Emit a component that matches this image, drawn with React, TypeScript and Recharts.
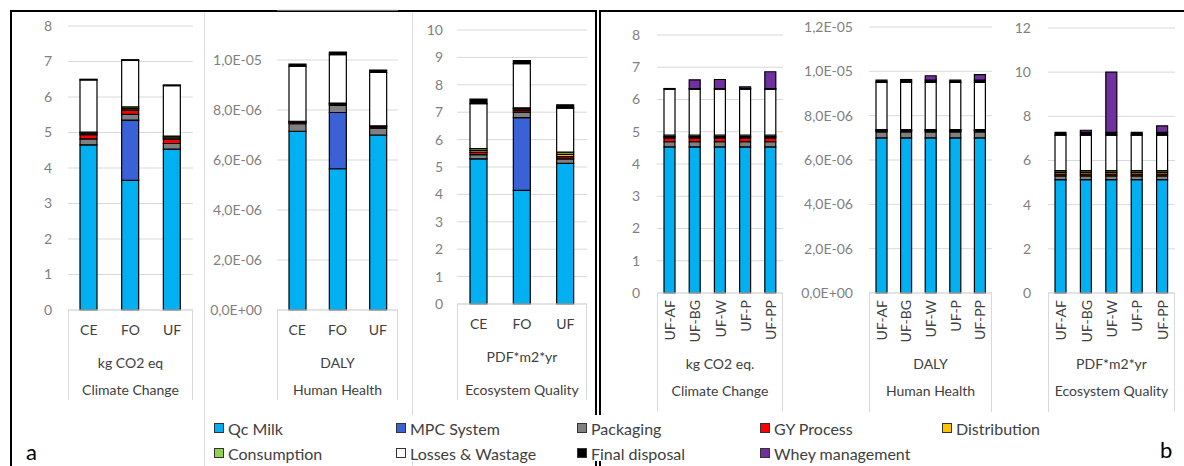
import React from 'react';
import { BarChart, Bar, XAxis, YAxis, CartesianGrid } from 'recharts';

const seriesNames = [
  'Qc Milk',
  'MPC System',
  'Packaging',
  'GY Process',
  'Distribution',
  'Consumption',
  'Losses & Wastage',
  'Final disposal',
  'Whey management',
];
const seriesColors = ['#00B0F0', '#3A62D6', '#808080', '#FF0000', '#FFC000', '#92D050', '#FFFFFF', '#000000', '#7030A0'];

const catsA = ['CE', 'FO', 'UF'];
const catsB = ['UF-AF', 'UF-BG', 'UF-W', 'UF-P', 'UF-PP'];

// one row per series (seriesNames order), one column per category
const climateA = [
  [4.65, 3.65, 4.53],
  [0, 1.7, 0],
  [0.17, 0.16, 0.16],
  [0.12, 0.12, 0.12],
  [0.04, 0.04, 0.04],
  [0.03, 0.05, 0.05],
  [1.47, 1.31, 1.42],
  [0.02, 0.02, 0.02],
  [0, 0, 0],
];
const healthA = [
  [7.15e-6, 5.65e-6, 7.0e-6],
  [0, 2.25e-6, 0],
  [0.3e-6, 0.28e-6, 0.27e-6],
  [0.05e-6, 0.05e-6, 0.05e-6],
  [0.03e-6, 0.03e-6, 0.03e-6],
  [0.02e-6, 0.02e-6, 0.02e-6],
  [2.2e-6, 1.93e-6, 2.13e-6],
  [0.09e-6, 0.11e-6, 0.1e-6],
  [0, 0, 0],
];
const ecoA = [
  [5.3, 4.15, 5.13],
  [0, 2.65, 0],
  [0.15, 0.2, 0.17],
  [0.08, 0.07, 0.08],
  [0.07, 0.05, 0.08],
  [0.07, 0.04, 0.08],
  [1.64, 1.61, 1.61],
  [0.17, 0.11, 0.12],
  [0, 0, 0],
];
const climateB = [
  [4.53, 4.53, 4.53, 4.53, 4.53],
  [0, 0, 0, 0, 0],
  [0.16, 0.16, 0.16, 0.16, 0.16],
  [0.12, 0.12, 0.12, 0.12, 0.12],
  [0.04, 0.04, 0.04, 0.04, 0.04],
  [0.05, 0.05, 0.05, 0.05, 0.05],
  [1.42, 1.42, 1.42, 1.42, 1.42],
  [0.02, 0.02, 0.02, 0.02, 0.02],
  [0, 0.27, 0.28, 0.05, 0.52],
];
const healthB = [
  [7.0e-6, 7.0e-6, 7.0e-6, 7.0e-6, 7.0e-6],
  [0, 0, 0, 0, 0],
  [0.27e-6, 0.27e-6, 0.27e-6, 0.27e-6, 0.27e-6],
  [0.05e-6, 0.05e-6, 0.05e-6, 0.05e-6, 0.05e-6],
  [0.03e-6, 0.03e-6, 0.03e-6, 0.03e-6, 0.03e-6],
  [0.02e-6, 0.02e-6, 0.02e-6, 0.02e-6, 0.02e-6],
  [2.13e-6, 2.13e-6, 2.13e-6, 2.13e-6, 2.13e-6],
  [0.1e-6, 0.1e-6, 0.1e-6, 0.1e-6, 0.1e-6],
  [0, 0.03e-6, 0.2e-6, 0, 0.25e-6],
];
const ecoB = [
  [5.13, 5.13, 5.13, 5.13, 5.13],
  [0, 0, 0, 0, 0],
  [0.17, 0.17, 0.17, 0.17, 0.17],
  [0.08, 0.08, 0.08, 0.08, 0.08],
  [0.08, 0.08, 0.08, 0.08, 0.08],
  [0.08, 0.08, 0.08, 0.08, 0.08],
  [1.61, 1.61, 1.61, 1.61, 1.61],
  [0.12, 0.12, 0.12, 0.12, 0.12],
  [0, 0.1, 2.73, 0, 0.3],
];

const ticks8 = [0, 1, 2, 3, 4, 5, 6, 7, 8];
const ticks10 = [0, 1, 2, 3, 4, 5, 6, 7, 8, 9, 10];
const ticks12 = [0, 2, 4, 6, 8, 10, 12];
const ticksDalyA = [0, 2e-6, 4e-6, 6e-6, 8e-6, 1e-5];
const ticksDalyB = [0, 2e-6, 4e-6, 6e-6, 8e-6, 1e-5, 1.2e-5];

const FONT = 'Lato, "Open Sans", sans-serif';
const LIGHT = '#d9d9d9';
const TXT = '#404040';

const sci = (v: number) => {
  if (v === 0) return '0,0E+00';
  const e = Math.floor(Math.log10(v) + 1e-9);
  const m = v / Math.pow(10, e);
  const es = (e < 0 ? '-' : '+') + String(Math.abs(e)).padStart(2, '0');
  return m.toFixed(1).replace('.', ',') + 'E' + es;
};

const toRows = (cats: string[], values: number[][]) =>
  cats.map((c, i) => {
    const row: Record<string, any> = { cat: c };
    seriesNames.forEach((s, k) => {
      row[s] = values[k][i];
    });
    return row;
  });

const RotTick = (props: any) => {
  const { x, y, payload } = props;
  return (
    <text
      x={x}
      y={y}
      transform={`rotate(-90, ${x}, ${y})`}
      textAnchor="end"
      dominantBaseline="central"
      fill={TXT}
      fontSize={14}
      fontFamily={FONT}
    >
      {payload.value}
    </text>
  );
};

type SubProps = {
  values: number[][];
  cats: string[];
  chartLeft: number;
  plotLeft: number;
  plotRight: number;
  plotTop: number;
  plotBottom: number;
  max: number;
  ticks: number[];
  fmt?: (v: number) => string;
  tickGap: number;
  barSize: number;
  rotated?: boolean;
  unit: string;
  title: string;
  unitY: number;
  titleY: number;
  boxBottom: number;
};

const SubChart = (p: SubProps) => {
  const xh = p.rotated ? 60 : 30;
  const width = p.plotRight - p.chartLeft;
  const height = p.plotBottom + xh;
  const center = (p.plotLeft + p.plotRight) / 2;
  const label = (text: string, y: number) => (
    <div
      style={{
        position: 'absolute',
        left: center - 100,
        width: 200,
        top: y - 9,
        lineHeight: '18px',
        textAlign: 'center',
        fontSize: 14,
        color: TXT,
        whiteSpace: 'nowrap',
      }}
    >
      {text}
    </div>
  );
  const vline = (x: number) => (
    <div
      style={{
        position: 'absolute',
        left: x,
        top: p.plotBottom,
        width: 1,
        height: p.boxBottom - p.plotBottom,
        background: LIGHT,
      }}
    />
  );
  return (
    <>
      <div style={{ position: 'absolute', left: p.chartLeft, top: 0 }}>
        <BarChart
          width={width}
          height={height}
          data={toRows(p.cats, p.values)}
          margin={{ top: p.plotTop, right: 0, bottom: 0, left: 0 }}
        >
          <CartesianGrid vertical={false} stroke={LIGHT} />
          <XAxis
            dataKey="cat"
            height={xh}
            interval={0}
            axisLine={{ stroke: LIGHT }}
            tickLine={false}
            tickSize={p.rotated ? 0 : 6}
            tickMargin={p.rotated ? 7 : 9}
            tick={p.rotated ? <RotTick /> : { fill: TXT, fontSize: 14, fontFamily: FONT }}
          />
          <YAxis
            type="number"
            width={p.plotLeft - p.chartLeft}
            domain={[0, p.max]}
            ticks={p.ticks}
            interval={0}
            tickFormatter={p.fmt}
            axisLine={false}
            tickLine={false}
            tickMargin={p.tickGap - 6}
            tick={{ fill: '#7f7f7f', fontSize: 14, fontFamily: FONT }}
          />
          {seriesNames.map((s, k) => (
            <Bar
              key={s}
              dataKey={s}
              stackId="a"
              fill={seriesColors[k]}
              stroke="#000"
              strokeWidth={1.2}
              barSize={p.barSize}
              isAnimationActive={false}
            />
          ))}
        </BarChart>
      </div>
      {vline(p.plotLeft)}
      {vline(p.plotRight - 1)}
      {label(p.unit, p.unitY)}
      {label(p.title, p.titleY)}
    </>
  );
};

const legendCols = [214, 396, 577, 760, 942];
const legendRows = [428, 453];

export default function App() {
  return (
    <div
      style={{
        position: 'absolute',
        left: 0,
        top: 0,
        width: 1184,
        height: 466,
        overflow: 'hidden',
        background: '#fff',
        fontFamily: FONT,
      }}
    >
      {/* panel frames */}
      <div style={{ position: 'absolute', left: 10, top: 10, width: 587, height: 500, border: '2px solid #000', boxSizing: 'border-box' }} />
      <div style={{ position: 'absolute', left: 599, top: 10, width: 620, height: 500, border: '2px solid #000', boxSizing: 'border-box' }} />
      <div style={{ position: 'absolute', left: 204, top: 13, width: 1, height: 460, background: LIGHT }} />
      <div style={{ position: 'absolute', left: 412, top: 13, width: 1, height: 460, background: LIGHT }} />

      <SubChart
        values={climateA} cats={catsA} chartLeft={20} plotLeft={68} plotRight={193} plotTop={26} plotBottom={310}
        max={8} ticks={ticks8} tickGap={16} barSize={17}
        unit="kg CO2 eq" title="Climate Change" unitY={363} titleY={390} boxBottom={400}
      />
      <SubChart
        values={healthA} cats={catsA} chartLeft={206} plotLeft={277} plotRight={398} plotTop={10} plotBottom={310}
        max={1.2e-5} ticks={ticksDalyA} fmt={sci} tickGap={15} barSize={17}
        unit="DALY" title="Human Health" unitY={363} titleY={390} boxBottom={400}
      />
      <SubChart
        values={ecoA} cats={catsA} chartLeft={414} plotLeft={457} plotRight={587} plotTop={30} plotBottom={304}
        max={10} ticks={ticks10} tickGap={14} barSize={17}
        unit="PDF*m2*yr" title="Ecosystem Quality" unitY={357} titleY={390} boxBottom={400}
      />
      <SubChart
        values={climateB} cats={catsB} chartLeft={605} plotLeft={657} plotRight={783} plotTop={35} plotBottom={293}
        max={8} ticks={ticks8} tickGap={17} barSize={11} rotated
        unit="kg CO2 eq." title="Climate Change" unitY={364} titleY={391} boxBottom={412}
      />
      <SubChart
        values={healthB} cats={catsB} chartLeft={800} plotLeft={869} plotRight={992} plotTop={27} plotBottom={293}
        max={1.2e-5} ticks={ticksDalyB} fmt={sci} tickGap={16} barSize={11} rotated
        unit="DALY" title="Human Health" unitY={364} titleY={391} boxBottom={412}
      />
      <SubChart
        values={ecoB} cats={catsB} chartLeft={1000} plotLeft={1048} plotRight={1175} plotTop={28} plotBottom={293}
        max={12} ticks={ticks12} tickGap={17} barSize={11} rotated
        unit="PDF*m2*yr" title="Ecosystem Quality" unitY={364} titleY={391} boxBottom={412}
      />

      {/* legend */}
      <div style={{ position: 'absolute', left: 206, top: 415, width: 850, height: 46, background: '#fff' }} />
      {seriesNames.map((s, k) => {
        const col = k % 5;
        const row = Math.floor(k / 5);
        return (
          <div
            key={s}
            style={{
              position: 'absolute',
              left: legendCols[col],
              top: legendRows[row] - 10,
              height: 20,
              display: 'flex',
              alignItems: 'center',
              fontSize: 16,
              color: TXT,
              whiteSpace: 'nowrap',
            }}
          >
            <span
              style={{
                display: 'inline-block',
                width: 10,
                height: 10,
                boxSizing: 'border-box',
                background: seriesColors[k],
                border: '1px solid #333',
                marginRight: 4,
              }}
            />
            {s}
          </div>
        );
      })}
      <div style={{ position: 'absolute', left: 26, top: 438, fontSize: 22, color: '#000' }}>a</div>
      <div style={{ position: 'absolute', left: 1160, top: 436, fontSize: 22, color: '#000' }}>b</div>
    </div>
  );
}
